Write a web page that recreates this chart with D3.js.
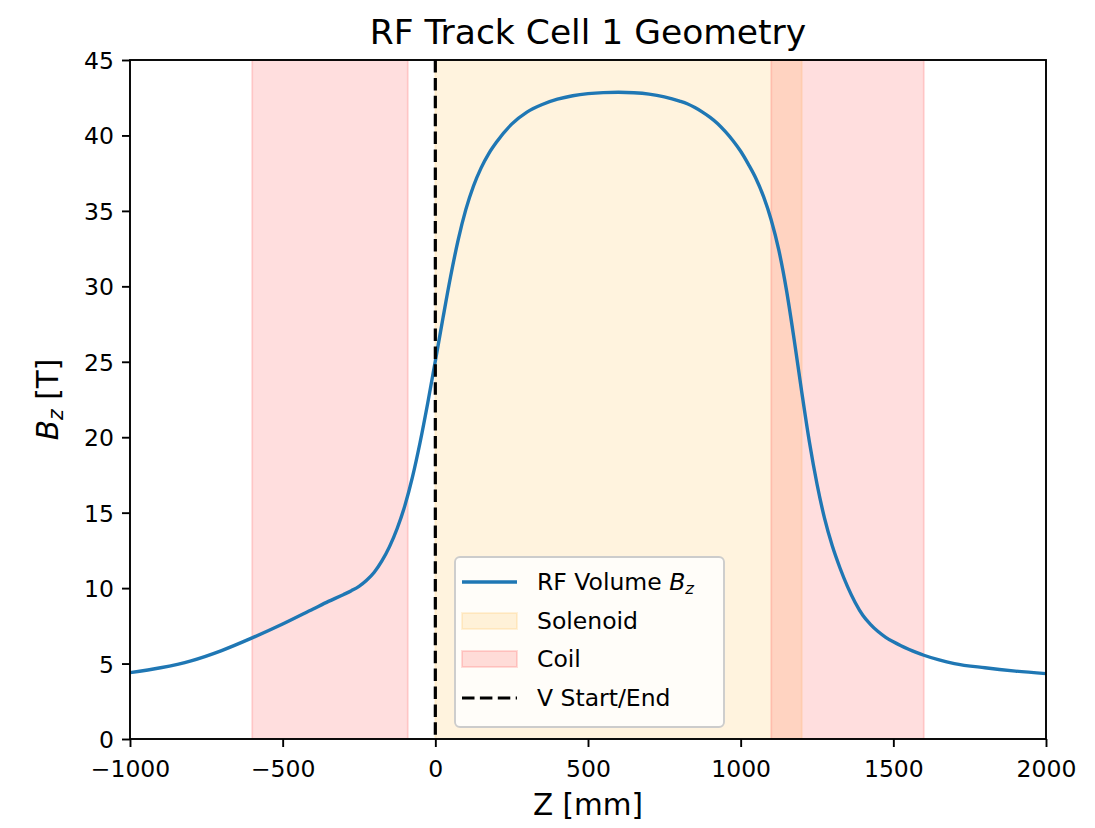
<!DOCTYPE html>
<html>
<head>
<meta charset="utf-8">
<script src="https://cdn.jsdelivr.net/npm/d3@7"></script>
<style>
  html, body { margin: 0; padding: 0; background: #fff; }
  svg text { font-family: "DejaVu Sans", sans-serif; fill: #000; }
</style>
</head>
<body>
<svg id="chart" width="1095" height="828"></svg>
<script>
// On-axis field profile of the RF volume, Bz [T] vs Z [mm]
const zValues = [-1000, -900, -800, -700, -600, -500, -400, -350, -300, -275, -250, -225, -200,
  -175, -150, -125, -100, -75, -50, -25, 0, 25, 50, 75, 100, 125, 150, 175, 200, 250, 300, 350,
  400, 450, 500, 550, 600, 650, 700, 750, 800, 825, 850, 875, 900, 925, 950, 975, 1000, 1025,
  1050, 1075, 1100, 1125, 1150, 1175, 1200, 1225, 1250, 1275, 1300, 1325, 1350, 1375, 1400,
  1425, 1450, 1475, 1500, 1525, 1550, 1575, 1600, 1650, 1700, 1800, 1900, 2000];
const bzValues = [4.40, 4.72, 5.18, 5.86, 6.70, 7.62, 8.62, 9.12, 9.58, 9.83, 10.12, 10.52, 11.05,
  11.80, 12.75, 13.95, 15.45, 17.35, 19.65, 22.25, 25.05, 27.90, 30.65, 33.10, 35.10, 36.65,
  37.85, 38.80, 39.55, 40.75, 41.55, 42.05, 42.40, 42.63, 42.77, 42.84, 42.86, 42.83, 42.74,
  42.56, 42.28, 42.10, 41.85, 41.55, 41.20, 40.78, 40.25, 39.65, 38.95, 38.10, 37.15, 35.95,
  34.40, 32.40, 29.75, 26.50, 23.00, 19.70, 16.90, 14.60, 12.80, 11.35, 10.10, 9.05, 8.20,
  7.60, 7.12, 6.74, 6.44, 6.18, 5.95, 5.74, 5.55, 5.24, 5.00, 4.72, 4.50, 4.33];

// Geometry regions along Z [mm]
const solenoidSpans = [[0, 1200]];
const coilSpans = [[-600, -90], [1100, 1600]];
const volumeMarkers = [0];

// Axis ticks
const xTicks = [-1000, -500, 0, 500, 1000, 1500, 2000];
const yTicks = [0, 5, 10, 15, 20, 25, 30, 35, 40, 45];

const svg = d3.select("#chart");
const plot = { left: 130, top: 60, right: 1046, bottom: 739 };

const x = d3.scaleLinear().domain([-1000, 2000]).range([plot.left, plot.right]);
const y = d3.scaleLinear().domain([0, 45]).range([plot.bottom, plot.top]);

svg.append("defs").append("clipPath").attr("id", "clip")
  .append("rect")
  .attr("x", plot.left).attr("y", plot.top)
  .attr("width", plot.right - plot.left).attr("height", plot.bottom - plot.top);

const body = svg.append("g").attr("clip-path", "url(#clip)");

const solenoidColor = "#ffa500";
const coilColor = "#ff0000";
const spanAlpha = 0.13;

function drawSpans(spans, color) {
  body.selectAll(null).data(spans).enter().append("rect")
    .attr("x", d => x(d[0]))
    .attr("width", d => x(d[1]) - x(d[0]))
    .attr("y", plot.top)
    .attr("height", plot.bottom - plot.top)
    .attr("fill", color).attr("fill-opacity", spanAlpha)
    .attr("stroke", color).attr("stroke-opacity", spanAlpha).attr("stroke-width", 2);
}
drawSpans(solenoidSpans, solenoidColor);
drawSpans(coilSpans, coilColor);

// Field curve
const points = zValues.map((z, i) => [z, bzValues[i]]);
const line = d3.line().x(d => x(d[0])).y(d => y(d[1])).curve(d3.curveMonotoneX);
body.append("path").datum(points)
  .attr("d", line)
  .attr("fill", "none")
  .attr("stroke", "#1f77b4")
  .attr("stroke-width", 3.4)
  .attr("stroke-linejoin", "round")
  .attr("stroke-linecap", "butt");

// RF volume start marker
body.selectAll(null).data(volumeMarkers).enter().append("line")
  .attr("x1", d => x(d)).attr("x2", d => x(d))
  .attr("y1", plot.top).attr("y2", plot.bottom)
  .attr("stroke", "#000").attr("stroke-width", 3.2)
  .attr("stroke-dasharray", "12.5,5.4");

// Axes
const tickFont = 23.5;
const fmt = d => (d < 0 ? "\u2212" + Math.abs(d) : String(d));

const xAxis = svg.append("g").attr("transform", `translate(0,${plot.bottom})`)
  .call(d3.axisBottom(x).tickValues(xTicks).tickFormat(fmt).tickSize(8).tickPadding(8));
const yAxis = svg.append("g").attr("transform", `translate(${plot.left},0)`)
  .call(d3.axisLeft(y).tickValues(yTicks).tickFormat(fmt).tickSize(8).tickPadding(8));

[xAxis, yAxis].forEach(a => {
  a.select(".domain").remove();
  a.selectAll(".tick line").attr("stroke", "#000").attr("stroke-width", 1.9);
  a.selectAll(".tick text").attr("font-size", tickFont)
    .attr("font-family", "DejaVu Sans").attr("fill", "#000");
});
xAxis.selectAll(".tick text").attr("dy", "0.95em");
yAxis.selectAll(".tick text").attr("dy", "0.36em");

// Frame
svg.append("rect")
  .attr("x", plot.left).attr("y", plot.top)
  .attr("width", plot.right - plot.left).attr("height", plot.bottom - plot.top)
  .attr("fill", "none").attr("stroke", "#000").attr("stroke-width", 1.9);

// Title and axis labels
svg.append("text")
  .attr("x", (plot.left + plot.right) / 2).attr("y", 44)
  .attr("text-anchor", "middle").attr("font-size", 34.5)
  .text("RF Track Cell 1 Geometry");

svg.append("text")
  .attr("x", (plot.left + plot.right) / 2).attr("y", 815)
  .attr("text-anchor", "middle").attr("font-size", 29.5)
  .text("Z [mm]");

const yl = svg.append("text")
  .attr("transform", `translate(58,${(plot.top + plot.bottom) / 2}) rotate(-90)`)
  .attr("text-anchor", "middle").attr("font-size", 29.5);
yl.append("tspan").attr("font-style", "italic").text("B");
yl.append("tspan").attr("font-style", "italic").attr("font-size", 20.5).attr("dy", 5).text("z");
yl.append("tspan").attr("dy", -5).text(" [T]");

// Legend
const legend = svg.append("g");
const lg = { x: 455, y: 557, w: 269, h: 170 };
legend.append("rect")
  .attr("x", lg.x).attr("y", lg.y).attr("width", lg.w).attr("height", lg.h)
  .attr("rx", 5).attr("ry", 5)
  .attr("fill", "#fff").attr("fill-opacity", 0.8)
  .attr("stroke", "#cccccc").attr("stroke-width", 1.9);

const hx0 = 462, hx1 = 517, tx = 537;
const rowY = [582, 621, 659, 698];
const legendFont = 23.5;

legend.append("line").attr("x1", hx0).attr("x2", hx1).attr("y1", rowY[0]).attr("y2", rowY[0])
  .attr("stroke", "#1f77b4").attr("stroke-width", 3.4);
legend.append("rect").attr("x", hx0).attr("y", rowY[1] - 8).attr("width", hx1 - hx0).attr("height", 16)
  .attr("fill", solenoidColor).attr("fill-opacity", spanAlpha)
  .attr("stroke", solenoidColor).attr("stroke-opacity", spanAlpha).attr("stroke-width", 2);
legend.append("rect").attr("x", hx0).attr("y", rowY[2] - 8).attr("width", hx1 - hx0).attr("height", 16)
  .attr("fill", coilColor).attr("fill-opacity", spanAlpha)
  .attr("stroke", coilColor).attr("stroke-opacity", spanAlpha).attr("stroke-width", 2);
legend.append("line").attr("x1", hx0).attr("x2", hx1).attr("y1", rowY[3]).attr("y2", rowY[3])
  .attr("stroke", "#000").attr("stroke-width", 3.2).attr("stroke-dasharray", "12.5,5.4");

const labels = ["RF Volume ", "Solenoid", "Coil", "V Start/End"];
labels.forEach((t, i) => {
  const el = legend.append("text").attr("x", tx).attr("y", rowY[i]).attr("dy", "0.36em")
    .attr("font-size", legendFont).attr("fill", "#222");
  el.append("tspan").text(t);
  if (i === 0) {
    el.append("tspan").attr("font-style", "italic").text("B");
    el.append("tspan").attr("font-style", "italic").attr("font-size", 16.5).attr("dy", 4).text("z");
  }
});
</script>
</body>
</html>
